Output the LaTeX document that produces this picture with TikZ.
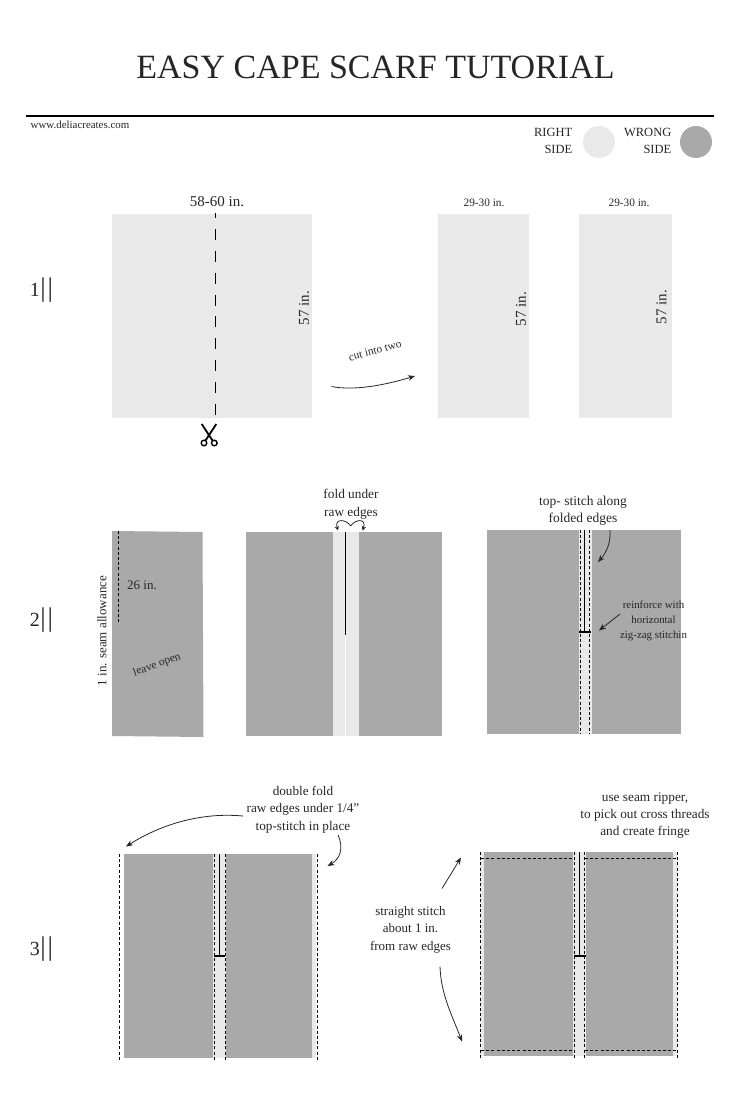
\documentclass[tikz,border=0pt]{standalone}
\usepackage{fontspec}
\setmainfont{Liberation Serif}
\usetikzlibrary{arrows.meta}
\definecolor{rightside}{HTML}{E9E9E9}
\definecolor{wrongside}{HTML}{A9A9A9}
\definecolor{inktext}{HTML}{262626}
\newcommand{\pxfont}[2]{\fontsize{#1}{#2}\selectfont}
\newcommand{\stepmark}[1]{{\fontsize{20}{20}\selectfont #1\kern0.5pt\fontsize{27}{27}\selectfont |\kern1.8pt|}}
\tikzset{
  note/.style={text=inktext,inner sep=0pt,align=center},
  seam/.style={black,line width=0.9pt,dash pattern=on 3pt off 2.2pt},
  solidseam/.style={black,line width=1pt},
  zigzag/.style={black,line width=1.8pt},
  pointer/.style={inktext,line width=0.8pt,-{Stealth[length=7pt,width=5.5pt]}},
}
\begin{document}
\begin{tikzpicture}[x=1pt,y=-1pt]
\useasboundingbox (0,0) rectangle (750,1100);
\node[note,font=\pxfont{34}{40}] (title) at (375.5,67) {EASY CAPE SCARF TUTORIAL};
\draw[black,line width=2pt](26,116)--(714,116);
\node[note,font=\pxfont{10.9}{13}] (site) at (80,124.5) {www.deliacreates.com};

\node[note,font=\pxfont{12.5}{17},align=right,anchor=east] (rightlabel) at (572.5,141) {RIGHT\\SIDE};
\node[note,font=\pxfont{12.5}{17},align=right,anchor=east] (wronglabel) at (671.5,140.5) {WRONG\\SIDE};
\path[fill=rightside] (599,142) circle [radius=16];
\path[fill=wrongside] (696,142) circle [radius=16];

\node[note] (stepone) at (41.5,290) {\stepmark{1}};
\node[note] (steptwo) at (41.5,620) {\stepmark{2}};
\node[note] (stepthree) at (41.5,949) {\stepmark{3}};

\path[fill=rightside] (112,214) rectangle (312,418);
\path[fill=rightside] (438,214) rectangle (529,418);
\path[fill=rightside] (579,214) rectangle (672,418);
\draw[black,line width=1pt,dash pattern=on 11pt off 10.8pt,dash phase=5.7pt](215.5,213)--(215.5,418);
\draw[black,line width=1.8pt](201.7,424)--(212.5,440.5);
\draw[black,line width=1.8pt](216.3,424)--(205.5,440.5);
\draw[black,line width=1.4pt](204,443) circle [radius=2.8];
\draw[black,line width=1.4pt](214.3,443) circle [radius=2.8];
\node[note,font=\pxfont{15}{18}] (fullwidth) at (217,201.5) {58-60 in.};
\node[note,font=\pxfont{15}{18},rotate=90] (fulllength) at (304,308) {57 in.};
\node[note,font=\pxfont{11.3}{13}] (halfwidtha) at (484,202.5) {29-30 in.};
\node[note,font=\pxfont{11.3}{13}] (halfwidthb) at (629,202.5) {29-30 in.};
\node[note,font=\pxfont{15}{18},rotate=90] (halflengtha) at (521,309) {57 in.};
\node[note,font=\pxfont{15}{18},rotate=90] (halflengthb) at (661.5,307) {57 in.};
\node[note,font=\pxfont{11.3}{13},rotate=15] (cutlabel) at (375,350.5) {cut into two};
\coordinate (cutstart) at (331.5,386.5);
\coordinate (cutend) at (415,376);
\draw[pointer] (cutstart) .. controls (355,391) and (385,385) .. (cutend);

\path[fill=wrongside] (112,531) -- (202.5,532) -- (203.5,737) -- (112,736) -- cycle;
\draw[seam](118.5,531)--(118.5,623);
\node[note,font=\pxfont{13}{16}] (seamlength) at (142,585) {26 in.};
\node[note,font=\pxfont{13}{16},rotate=90] (seamlabel) at (102,631) {1 in. seam allowance};
\node[note,font=\pxfont{11.5}{14},rotate=20] (openlabel) at (157,665) {leave open};

\path[fill=wrongside] (246,532) rectangle (442,736);
\path[fill=rightside] (333,532) rectangle (359,736);
\path[fill=white] (345,635) rectangle (345.9,736);
\draw[solidseam](345.5,532)--(345.5,635);
\node[note,font=\pxfont{13.3}{17.5}] (foldlabel) at (351,504) {fold under\\raw edges};
\coordinate (foldmid) at (350.7,526);
\coordinate (foldleft) at (338,530.5);
\coordinate (foldright) at (362.5,530.5);
\draw[pointer,-{Stealth[length=4.5pt,width=4.5pt]}] (foldmid) .. controls (346,519) and (334,518) .. (foldleft);
\draw[pointer,-{Stealth[length=4.5pt,width=4.5pt]}] (foldmid) .. controls (355,519) and (367,518) .. (foldright);

\path[fill=wrongside] (487,530) rectangle (681,734);
\path[fill=rightside] (578.5,530) rectangle (591.5,734);
\draw[seam](580.5,530)--(580.5,734);
\draw[seam](589.5,530)--(589.5,734);
\draw[solidseam](584.7,530)--(584.7,632);
\draw[zigzag](579,632.3)--(590.5,632.3);
\node[note,font=\pxfont{13.5}{17.5}] (topstitchlabel) at (583,511) {top- stitch along\\folded edges};
\coordinate (topstitchstart) at (610,530);
\coordinate (topstitchend) at (598,562);
\draw[pointer] (topstitchstart) .. controls (611,543) and (606,553) .. (topstitchend);
\node[note,font=\pxfont{10.9}{15}] (reinforcelabel) at (653.5,621) {reinforce with\\horizontal\\zig-zag stitchin};
\coordinate (reinforcestart) at (620,614);
\coordinate (reinforceend) at (599,630.5);
\draw[pointer] (reinforcestart) -- (reinforceend);

\path[fill=rightside] (120,854) rectangle (316,1058);
\path[fill=white] (120,854) rectangle (124,1058);
\path[fill=wrongside] (124,854) rectangle (212.7,1058);
\path[fill=wrongside] (226,854) rectangle (312,1058);
\draw[seam](119.5,854)--(119.5,1060);
\draw[seam](317,854)--(317,1060);
\draw[seam](214.7,854)--(214.7,1060);
\draw[seam](225,854)--(225,1060);
\draw[solidseam](219.5,854)--(219.5,956);
\draw[zigzag](213.5,956)--(225,956);
\node[note,font=\pxfont{13.2}{17.5}] (doublefold) at (303,809.5) {double fold\\raw edges under 1/4”\\top-stitch in place};
\coordinate (doublestart) at (243,816);
\coordinate (doubleend) at (126,846.5);
\draw[pointer] (doublestart) .. controls (200,812) and (160,825) .. (doubleend);
\coordinate (hemstart) at (338,835);
\coordinate (hemend) at (327.5,866);
\draw[pointer] (hemstart) .. controls (344,848) and (340,859) .. (hemend);

\path[fill=rightside] (479.5,852) rectangle (677,1056);
\path[fill=wrongside] (484,852) rectangle (573,1056);
\path[fill=wrongside] (586,852) rectangle (673,1056);
\draw[seam](480.7,852)--(480.7,1058);
\draw[seam](677.3,852)--(677.3,1058);
\draw[seam](574.3,852)--(574.3,1058);
\draw[seam](584.7,852)--(584.7,1058);
\draw[seam](481,858.7)--(574,858.7);
\draw[seam](585,858.7)--(677,858.7);
\draw[seam](481,1050.3)--(574,1050.3);
\draw[seam](585,1050.3)--(677,1050.3);
\draw[solidseam](579.3,852)--(579.3,955.7);
\draw[zigzag](574,955.7)--(585.5,955.7);
\node[note,font=\pxfont{13.3}{17}] (ripperlabel) at (645,815.5) {use seam ripper,\\to pick out cross threads\\and create fringe};
\node[note,font=\pxfont{13}{17.5}] (straightlabel) at (410.5,929.5) {straight stitch\\about 1 in.\\from raw edges};
\coordinate (straightup) at (442,888.5);
\coordinate (straightupend) at (461,857.5);
\draw[pointer] (straightup) -- (straightupend);
\coordinate (straightdown) at (440,966.5);
\coordinate (straightdownend) at (462,1041.5);
\draw[pointer] (straightdown) .. controls (441,995) and (452,1015) .. (straightdownend);
\end{tikzpicture}
\end{document}
